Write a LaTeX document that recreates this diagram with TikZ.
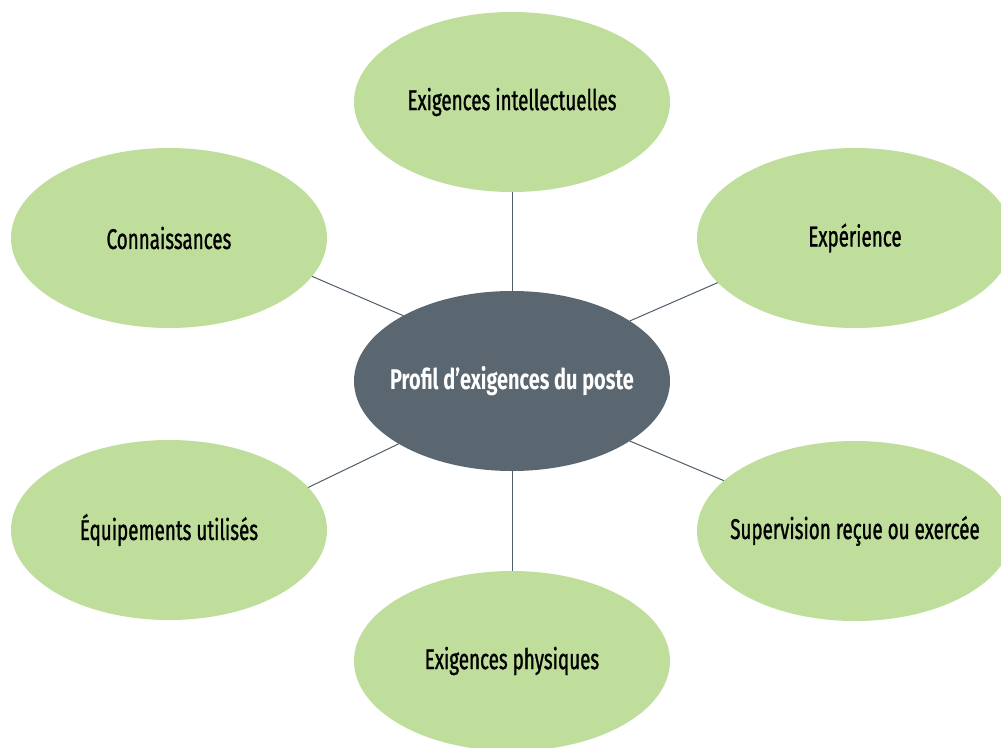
\documentclass[tikz,border=0pt]{standalone}
\usepackage{fontspec}
\setmainfont{Fira Sans}[FakeStretch=0.66, FakeBold=1.0]
\newfontfamily\hubfont{Fira Sans}[FakeStretch=0.70]
\usetikzlibrary{shapes.geometric}
\definecolor{leaf}{RGB}{191,221,155}
\definecolor{slate}{RGB}{90,103,112}
\definecolor{wire}{RGB}{78,93,106}
\newcommand{\zw}[1]{\makebox[0pt]{#1}}
\begin{document}
\begin{tikzpicture}[x=1pt,y=-1pt,
  bubble/.style={ellipse, fill=leaf, minimum width=316pt, minimum height=180pt,
    inner sep=0pt, outer sep=0pt, text=black, font=\fontsize{28.5}{30}\selectfont},
  hub/.style={bubble, fill=slate, text=white, font=\hubfont\bfseries\fontsize{28.5}{30}\selectfont},
  link/.style={draw=wire, line width=1pt}]
\useasboundingbox (0,0) rectangle (1001,747);
\clip (0,0) rectangle (1001,747);
\node[hub] (c) at (512,381) {\zw{Profil d’exigences du poste}};
\node[bubble] (t) at (512,102) {\zw{Exigences intellectuelles}};
\node[bubble] (lt) at (169,238) {\zw{Connaissances}};
\node[bubble] (rt) at (855,238) {\zw{Expérience}};
\node[bubble] (lb) at (169,530) {\zw{Équipements utilisés}};
\node[bubble] (rb) at (855,531) {\zw{Supervision reçue ou exercée}};
\node[bubble] (b) at (512,661) {\zw{Exigences physiques}};
\draw[link] (c.90) -- (t.270);
\draw[link] (c.270) -- (b.90);
\draw[link] (c.149.5) -- (lt.-15.7);
\draw[link] (c.27.7) -- (rt.198.4);
\draw[link] (c.209.7) -- (lb.17.2);
\draw[link] (c.-27) -- (rb.159.8);
\end{tikzpicture}
\end{document}
